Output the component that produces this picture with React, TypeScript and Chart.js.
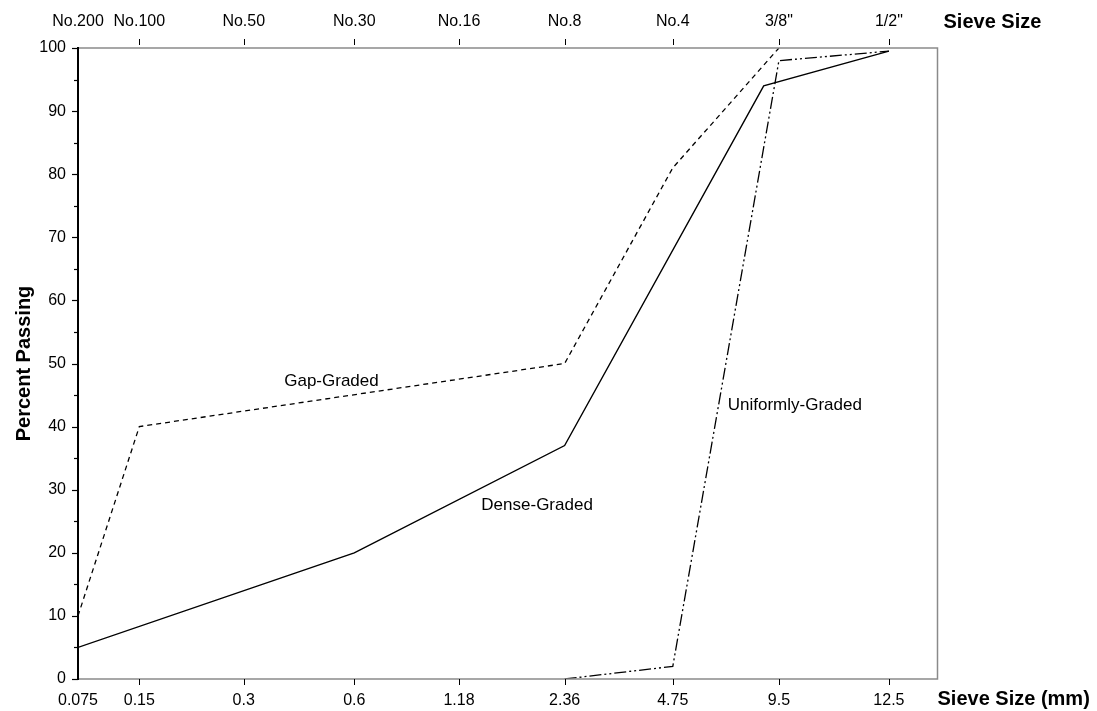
import React, { useEffect, useRef } from "react";
import { Chart, registerables } from "chart.js";

Chart.register(...registerables);

// Sieve sizes (mm) and their names, with their positions along the (non-uniform) sieve axis
const SIEVE_MM = [0.075, 0.15, 0.3, 0.6, 1.18, 2.36, 4.75, 9.5, 12.5];
const SIEVE_MM_LABELS = ["0.075", "0.15", "0.3", "0.6", "1.18", "2.36", "4.75", "9.5", "12.5"];
const SIEVE_NAMES = ["No.200", "No.100", "No.50", "No.30", "No.16", "No.8", "No.4", '3/8"', '1/2"'];
const SIEVE_AXIS_POS = [0, 0.573, 1.549, 2.582, 3.561, 4.548, 5.559, 6.551, 7.579];
const AXIS_MAX = 8.033;

const Y_TICKS_MAJOR = [0, 10, 20, 30, 40, 50, 60, 70, 80, 90, 100];

// Series: sieve size (mm) vs percent passing
const DENSE_MM = [0.075, 0.6, 2.36, 8.6, 12.5];
const DENSE_PCT = [5, 20, 37, 94, 99.5];

const GAP_MM = [0.075, 0.15, 2.36, 4.75, 9.5];
const GAP_PCT = [10, 40, 50, 81, 100];

const UNIFORM_MM = [2.36, 4.75, 9.5, 12.5];
const UNIFORM_PCT = [0, 2, 98, 99.5];

// Curve labels: [text, mm, pct, align]
const CURVE_LABELS: [string, number, number, CanvasTextAlign][] = [
  ["Gap-Graded", 0.52, 47.2, "center"],
  ["Dense-Graded", 1.97, 27.6, "center"],
  ["Uniformly-Graded", 6.8, 43.3, "left"],
];

function toPos(mm: number): number {
  for (let i = 0; i < SIEVE_MM.length - 1; i++) {
    const a = SIEVE_MM[i];
    const b = SIEVE_MM[i + 1];
    if (mm >= a && mm <= b) {
      const f = (Math.log(mm) - Math.log(a)) / (Math.log(b) - Math.log(a));
      return SIEVE_AXIS_POS[i] + f * (SIEVE_AXIS_POS[i + 1] - SIEVE_AXIS_POS[i]);
    }
  }
  return mm < SIEVE_MM[0] ? SIEVE_AXIS_POS[0] : SIEVE_AXIS_POS[SIEVE_AXIS_POS.length - 1];
}

const FONT = "'Liberation Sans', Arial, sans-serif";

const framePlugin = {
  id: "frame",
  afterDatasetsDraw(chart: any) {
    const { ctx, chartArea } = chart;
    const { left, right, top, bottom } = chartArea;
    const xs = chart.scales.x;
    const ys = chart.scales.y;
    ctx.save();
    // gray frame
    ctx.strokeStyle = "#8a8a8a";
    ctx.lineWidth = 1.5;
    ctx.beginPath();
    ctx.moveTo(left, top);
    ctx.lineTo(right, top);
    ctx.lineTo(right, bottom);
    ctx.lineTo(left, bottom);
    ctx.stroke();
    // left axis
    ctx.strokeStyle = "#000";
    ctx.lineWidth = 2;
    ctx.beginPath();
    ctx.moveTo(left, top - 1);
    ctx.lineTo(left, bottom + 1);
    ctx.stroke();
    // y ticks
    ctx.lineWidth = 1.2;
    for (let v = 0; v <= 100; v += 5) {
      const y = Math.round(ys.getPixelForValue(v)) + 0.5;
      const len = v % 10 === 0 ? 6 : 4;
      ctx.beginPath();
      ctx.moveTo(left - len, y);
      ctx.lineTo(left, y);
      ctx.stroke();
    }
    // x ticks bottom & top
    ctx.lineWidth = 1;
    SIEVE_AXIS_POS.forEach((p, i) => {
      if (i === 0) return;
      const x = Math.round(xs.getPixelForValue(p)) + 0.5;
      ctx.beginPath();
      ctx.moveTo(x, bottom);
      ctx.lineTo(x, bottom + 6);
      ctx.stroke();
      ctx.beginPath();
      ctx.moveTo(x, top - 9);
      ctx.lineTo(x, top - 3);
      ctx.stroke();
    });
    // axis titles at the right
    ctx.fillStyle = "#000";
    ctx.font = `bold 20px ${FONT}`;
    ctx.textAlign = "left";
    ctx.textBaseline = "middle";
    ctx.fillText("Sieve Size (mm)", right, bottom + 20);
    ctx.fillText("Sieve Size", right + 6, top - 26);
    // curve labels
    ctx.font = `17px ${FONT}`;
    CURVE_LABELS.forEach(([t, mm, pct, al]) => {
      ctx.textAlign = al;
      ctx.fillText(t, xs.getPixelForValue(toPos(mm)), ys.getPixelForValue(pct));
    });
    ctx.restore();
  },
};

export default function App() {
  const ref = useRef<HTMLCanvasElement>(null);
  useEffect(() => {
    document.body.style.margin = "0";
    const canvas = ref.current!;
    const mk = (mm: number[], pct: number[]) => mm.map((m, i) => ({ x: toPos(m), y: pct[i] }));
    const chart = new Chart(canvas, {
      type: "line",
      data: {
        datasets: [
          {
            label: "Dense-Graded",
            data: mk(DENSE_MM, DENSE_PCT),
            borderColor: "#000",
            borderWidth: 1.4,
            pointRadius: 0,
            tension: 0,
          },
          {
            label: "Gap-Graded",
            data: mk(GAP_MM, GAP_PCT),
            borderColor: "#000",
            borderWidth: 1.3,
            borderDash: [5, 4],
            pointRadius: 0,
            tension: 0,
          },
          {
            label: "Uniformly-Graded",
            data: mk(UNIFORM_MM, UNIFORM_PCT),
            borderColor: "#000",
            borderWidth: 1.3,
            borderDash: [12, 3, 2, 3, 2, 3],
            pointRadius: 0,
            tension: 0,
          },
        ],
      },
      options: {
        responsive: false,
        animation: false,
        devicePixelRatio: 1,
        layout: { padding: { left: 0, right: 159.5, top: 0, bottom: 0 } },
        plugins: { legend: { display: false }, tooltip: { enabled: false } },
        scales: {
          x: {
            type: "linear",
            position: "bottom",
            min: 0,
            max: AXIS_MAX,
            grid: { display: false, drawTicks: false },
            border: { display: false },
            afterBuildTicks: (s: any) => {
              s.ticks = SIEVE_AXIS_POS.map((v) => ({ value: v }));
            },
            afterFit: (s: any) => {
              s.height = 32;
            },
            ticks: {
              autoSkip: false,
              maxRotation: 0,
              padding: 12,
              color: "#000",
              font: { family: FONT, size: 16 },
              callback: (_v: any, i: number) => SIEVE_MM_LABELS[i],
            },
          },
          x2: {
            type: "linear",
            position: "top",
            min: 0,
            max: AXIS_MAX,
            grid: { display: false, drawTicks: false },
            border: { display: false },
            afterBuildTicks: (s: any) => {
              s.ticks = SIEVE_AXIS_POS.map((v) => ({ value: v }));
            },
            afterFit: (s: any) => {
              s.height = 48;
            },
            ticks: {
              autoSkip: false,
              maxRotation: 0,
              padding: 17,
              color: "#000",
              font: { family: FONT, size: 16 },
              callback: (_v: any, i: number) => SIEVE_NAMES[i],
            },
          },
          y: {
            type: "linear",
            min: 0,
            max: 100,
            grid: { display: false, drawTicks: false },
            border: { display: false },
            afterBuildTicks: (s: any) => {
              s.ticks = Y_TICKS_MAJOR.map((v) => ({ value: v }));
            },
            afterFit: (s: any) => {
              s.width = 78;
            },
            ticks: {
              padding: 12,
              color: "#000",
              font: { family: FONT, size: 16 },
            },
            title: {
              display: true,
              text: "Percent Passing",
              color: "#000",
              font: { family: FONT, size: 20, weight: "bold" },
              padding: { top: 12, bottom: 0 },
            },
          },
        },
      },
      plugins: [framePlugin],
    });
    return () => chart.destroy();
  }, []);
  return (
    <div style={{ width: 1097, height: 711 }}>
      <canvas ref={ref} width={1097} height={711} style={{ display: "block" }} />
    </div>
  );
}
